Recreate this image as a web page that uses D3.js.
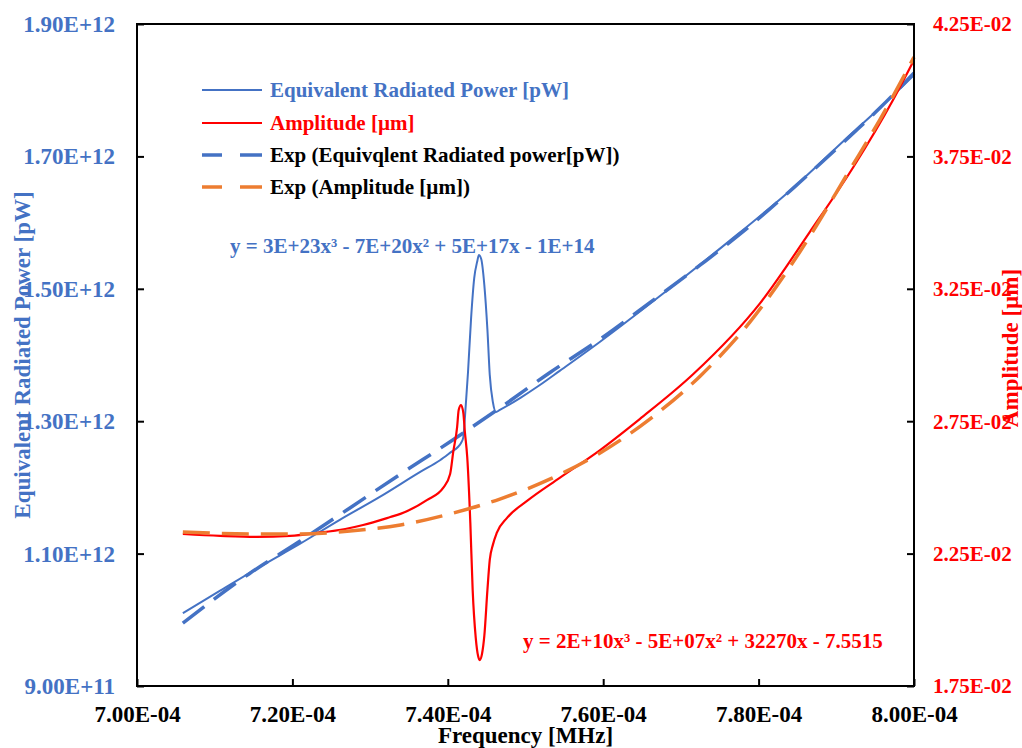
<!DOCTYPE html>
<html>
<head>
<meta charset="utf-8">
<script src="https://cdn.jsdelivr.net/npm/d3@7"></script>
<style>
  body { margin: 0; background: #fff; }
  svg { display: block; }
  text { font-family: 'Liberation Serif', 'Times New Roman', serif; font-weight: bold; }
</style>
</head>
<body>
<div id="chart"></div>
<script>
// axis ticks
const freqTicks = [7.0e-4, 7.2e-4, 7.4e-4, 7.6e-4, 7.8e-4, 8.0e-4]
const powerTicks = [9e11, 1.1e12, 1.3e12, 1.5e12, 1.7e12, 1.9e12]
const ampTicks = [1.75e-2, 2.25e-2, 2.75e-2, 3.25e-2, 3.75e-2, 4.25e-2]

// Equivalent radiated power [pW]
const erpFreq = [
  7.059e-4, 7.107e-4, 7.158e-4, 7.21e-4, 7.261e-4, 7.313e-4, 7.364e-4, 7.39e-4, 7.405e-4, 7.413e-4,
  7.417e-4, 7.42e-4, 7.422e-4, 7.426e-4, 7.43e-4, 7.434e-4, 7.438e-4, 7.44e-4, 7.443e-4, 7.447e-4,
  7.451e-4, 7.454e-4, 7.458e-4, 7.462e-4, 7.467e-4, 7.493e-4, 7.519e-4, 7.544e-4, 7.596e-4, 7.673e-4,
  7.759e-4, 7.844e-4, 7.909e-4, 7.973e-4, 8.0e-4,
]
const erpPower = [
  1.01e12, 1.044e12, 1.08e12, 1.115e12, 1.151e12, 1.186e12, 1.223e12, 1.241e12, 1.254e12, 1.261e12,
  1.267e12, 1.276e12, 1.305e12, 1.374e12, 1.456e12, 1.516e12, 1.542e12, 1.551e12, 1.545e12, 1.506e12,
  1.438e12, 1.37e12, 1.329e12, 1.314e12, 1.317e12, 1.335e12, 1.355e12, 1.376e12, 1.42e12, 1.489e12,
  1.569e12, 1.652e12, 1.723e12, 1.792e12, 1.823e12,
]

// Amplitude [um]
const ampFreq = [
  7.059e-4, 7.107e-4, 7.154e-4, 7.197e-4, 7.232e-4, 7.268e-4, 7.291e-4, 7.326e-4, 7.339e-4, 7.373e-4,
  7.394e-4, 7.403e-4, 7.407e-4, 7.412e-4, 7.414e-4, 7.417e-4, 7.42e-4, 7.422e-4, 7.425e-4, 7.429e-4,
  7.432e-4, 7.436e-4, 7.439e-4, 7.441e-4, 7.444e-4, 7.447e-4, 7.451e-4, 7.454e-4, 7.458e-4, 7.463e-4,
  7.476e-4, 7.502e-4, 7.544e-4, 7.596e-4, 7.647e-4, 7.716e-4, 7.802e-4, 7.866e-4, 7.922e-4, 7.973e-4,
  8.0e-4,
]
const ampValue = [
  2.324e-2, 2.317e-2, 2.313e-2, 2.317e-2, 2.328e-2, 2.343e-2, 2.358e-2, 2.388e-2, 2.4e-2, 2.452e-2,
  2.498e-2, 2.551e-2, 2.634e-2, 2.728e-2, 2.792e-2, 2.811e-2, 2.781e-2, 2.709e-2, 2.615e-2, 2.366e-2,
  2.113e-2, 1.931e-2, 1.863e-2, 1.848e-2, 1.871e-2, 1.939e-2, 2.113e-2, 2.226e-2, 2.283e-2, 2.328e-2,
  2.384e-2, 2.449e-2, 2.536e-2, 2.641e-2, 2.758e-2, 2.928e-2, 3.196e-2, 3.465e-2, 3.71e-2, 3.963e-2,
  4.114e-2,
]

// trendlines
const fitFreq = [
  7.059e-4, 7.145e-4, 7.21e-4, 7.274e-4, 7.339e-4, 7.403e-4, 7.467e-4, 7.532e-4,
  7.596e-4, 7.66e-4, 7.725e-4, 7.789e-4, 7.853e-4, 7.918e-4, 7.956e-4, 8.0e-4,
]
const fitPower = [
  0.995e12, 1.07e12, 1.119e12, 1.169e12, 1.22e12, 1.269e12, 1.32e12, 1.374e12,
  1.424e12, 1.479e12, 1.536e12, 1.595e12, 1.661e12, 1.731e12, 1.773e12, 1.826e12,
]
const fitAmp = [
  2.332e-2, 2.324e-2, 2.324e-2, 2.335e-2, 2.358e-2, 2.4e-2, 2.456e-2, 2.532e-2,
  2.63e-2, 2.758e-2, 2.921e-2, 3.125e-2, 3.389e-2, 3.702e-2, 3.888e-2, 4.125e-2,
]

const blue = '#4472C4'
const red = '#FF0000'
const orange = '#ED7D31'

const width = 1022
const height = 748
const margin = { top: 24, right: 108, bottom: 62, left: 137 }
const coreChartWidth = width - margin.left - margin.right
const coreChartHeight = height - margin.top - margin.bottom

const svg = d3
  .select('#chart')
  .append('svg')
  .attr('width', width)
  .attr('height', height)

const chartCore = svg
  .append('g')
  .attr('transform', `translate(${margin.left},${margin.top})`)

const xScale = d3.scaleLinear().domain([7.0e-4, 8.0e-4]).range([0, coreChartWidth])
const yLeft = d3.scaleLinear().domain([9e11, 1.9e12]).range([coreChartHeight, 0])
const yRight = d3.scaleLinear().domain([1.75e-2, 4.25e-2]).range([coreChartHeight, 0])

const sci = v => {
  const [m, e] = v.toExponential(2).split('e')
  return `${m}E${e[0]}${e.slice(1).padStart(2, '0')}`
}

function styleAxis(g, { color, fontSize, textX, textY, anchor, dy }) {
  g.select('.domain').remove()
  g.selectAll('.tick line').attr('stroke', '#000').attr('stroke-width', 2)
  const t = g.selectAll('.tick text')
    .attr('fill', color)
    .attr('text-anchor', anchor)
    .attr('dy', dy)
    .style('font-size', `${fontSize}px`)
  if (textX !== undefined) t.attr('x', textX)
  if (textY !== undefined) t.attr('y', textY)
}

// x axis
chartCore
  .append('g')
  .attr('transform', `translate(0,${coreChartHeight})`)
  .call(d3.axisBottom(xScale).tickValues(freqTicks).tickFormat(sci).tickSizeInner(-7).tickSizeOuter(0))
  .call(g => styleAxis(g, { color: '#000', fontSize: 23, textY: 36, anchor: 'middle', dy: 0 }))

// left axis
chartCore
  .append('g')
  .call(d3.axisLeft(yLeft).tickValues(powerTicks).tickFormat(sci).tickSizeInner(-7).tickSizeOuter(0))
  .call(g => styleAxis(g, { color: blue, fontSize: 23, textX: -22, anchor: 'end', dy: '0.33em' }))

// right axis
chartCore
  .append('g')
  .attr('transform', `translate(${coreChartWidth},0)`)
  .call(d3.axisRight(yRight).tickValues(ampTicks).tickFormat(sci).tickSizeInner(-7).tickSizeOuter(0))
  .call(g => styleAxis(g, { color: red, fontSize: 21, textX: 19, anchor: 'start', dy: '0.33em' }))

// series
const lineLeft = d3.line().x(d => xScale(d[0])).y(d => yLeft(d[1])).curve(d3.curveMonotoneX)
const lineRight = d3.line().x(d => xScale(d[0])).y(d => yRight(d[1])).curve(d3.curveMonotoneX)

chartCore.append('path')
  .attr('d', lineLeft(d3.zip(erpFreq, erpPower)))
  .attr('fill', 'none').attr('stroke', blue).attr('stroke-width', 2)

chartCore.append('path')
  .attr('d', lineLeft(d3.zip(fitFreq, fitPower)))
  .attr('fill', 'none').attr('stroke', blue).attr('stroke-width', 3.5)
  .attr('stroke-dasharray', '27 12')

chartCore.append('path')
  .attr('d', lineRight(d3.zip(ampFreq, ampValue)))
  .attr('fill', 'none').attr('stroke', red).attr('stroke-width', 2.2)

chartCore.append('path')
  .attr('d', lineRight(d3.zip(fitFreq, fitAmp)))
  .attr('fill', 'none').attr('stroke', orange).attr('stroke-width', 3.5)
  .attr('stroke-dasharray', '27 12')

// frame
chartCore.append('rect')
  .attr('width', coreChartWidth)
  .attr('height', coreChartHeight)
  .attr('fill', 'none')
  .attr('stroke', '#000')
  .attr('stroke-width', 2)

// trendline equations
svg.append('text')
  .attr('x', 230).attr('y', 253)
  .attr('fill', blue).style('font-size', '21px')
  .text('y = 3E+23x³ - 7E+20x² + 5E+17x - 1E+14')

svg.append('text')
  .attr('x', 523).attr('y', 648)
  .attr('fill', red).style('font-size', '21px')
  .text('y = 2E+10x³ - 5E+07x² + 32270x - 7.5515')

// legend
const legendLabels = [
  'Equivalent Radiated Power [pW]',
  'Amplitude [µm]',
  'Exp (Equivqlent Radiated power[pW])',
  'Exp (Amplitude [µm])',
]
const legendColors = [blue, red, blue, orange]
const legendText = [blue, red, '#000', '#000']
const legendRows = [90, 123, 155, 187]

const legend = svg.append('g')
legendLabels.forEach((label, i) => {
  const y = legendRows[i]
  if (i < 2) {
    legend.append('line')
      .attr('x1', 202).attr('x2', 262).attr('y1', y).attr('y2', y)
      .attr('stroke', legendColors[i]).attr('stroke-width', 2)
  } else {
    legend.append('path')
      .attr('d', `M202,${y}H222M240,${y}H262`)
      .attr('stroke', legendColors[i]).attr('stroke-width', 3.5)
  }
  legend.append('text')
    .attr('x', 270).attr('y', y).attr('dy', '0.33em')
    .attr('fill', legendText[i]).style('font-size', '21px')
    .text(label)
})

// axis titles
svg.append('text')
  .attr('x', margin.left + coreChartWidth / 2).attr('y', 743)
  .attr('text-anchor', 'middle').attr('fill', '#000').style('font-size', '23px')
  .text('Frequency [MHz]')

svg.append('text')
  .attr('transform', `translate(30, ${margin.top + coreChartHeight / 2}) rotate(-90)`)
  .attr('text-anchor', 'middle').attr('fill', blue).style('font-size', '23px')
  .text('Equivalent Radiated Power [pW]')

svg.append('text')
  .attr('transform', `translate(1018, 348) rotate(-90)`)
  .attr('text-anchor', 'middle').attr('fill', red).style('font-size', '23px')
  .text('Amplitude [µm]')
</script>
</body>
</html>
